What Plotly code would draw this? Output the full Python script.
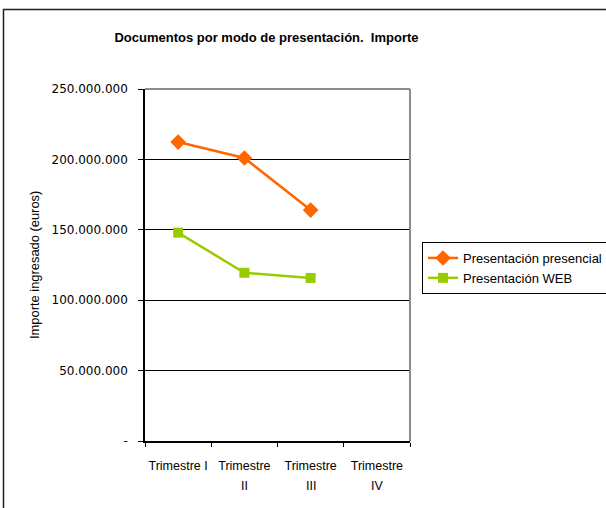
import plotly.graph_objects as go

categories = ["Trimestre I", "Trimestre II", "Trimestre III", "Trimestre IV"]
tick_line1 = ["Trimestre I", "Trimestre", "Trimestre", "Trimestre"]
tick_line2 = ["", "II", "III", "IV"]
presencial = [212300000, 201000000, 164000000, None]
web = [148000000, 119500000, 115800000, None]
y_tickvals = [0, 50000000, 100000000, 150000000, 200000000, 250000000]
y_ticktext = ["-", "50.000.000", "100.000.000", "150.000.000", "200.000.000", "250.000.000"]

FONT = "Liberation Sans, Arial, sans-serif"

fig = go.Figure()
fig.add_trace(go.Scatter(
    x=categories, y=presencial, name="Presentación presencial",
    mode="lines+markers",
    line=dict(color="#FF6600", width=2.5),
    marker=dict(symbol="diamond", size=12, color="#FF6600"),
))
fig.add_trace(go.Scatter(
    x=categories, y=web, name="Presentación WEB",
    mode="lines+markers",
    line=dict(color="#99CC00", width=2.5),
    marker=dict(symbol="square", size=10, color="#99CC00"),
))

W, H = 606, 508
L, R, T, B = 145, 196, 89, 67
pw, ph = W - L - R, H - T - B

def px(x):
    return (x - L) / pw

def py(y):
    return (H - B - y) / ph

annotations = [dict(
    text="Importe ingresado (euros)", textangle=-90,
    x=px(34), y=0.5, xref="paper", yref="paper",
    xanchor="center", yanchor="middle", showarrow=False,
    font=dict(family=FONT, size=12.9, color="black"),
)]
for cat, t2 in zip(categories, tick_line2):
    if t2:
        annotations.append(dict(
            text=t2, x=cat, xref="x", y=py(486), yref="paper",
            xanchor="center", yanchor="middle", showarrow=False,
            font=dict(family=FONT, size=12.5, color="black"),
        ))

fig.update_layout(
    width=W, height=H,
    margin=dict(l=L, r=R, t=T, b=B, pad=0, autoexpand=False),
    paper_bgcolor="white", plot_bgcolor="white",
    font=dict(family=FONT, size=12.5, color="black"),
    title=dict(text="<b>Documentos por modo de presentación.  Importe</b>",
               x=px(266.5), xref="paper", xanchor="center",
               y=1 - 37 / H, yanchor="middle",
               font=dict(family=FONT, size=13, color="black")),
    showlegend=True,
    legend=dict(x=px(422), y=py(242), xanchor="left", yanchor="top",
                bordercolor="black", borderwidth=1, bgcolor="white",
                font=dict(family=FONT, size=13, color="black"),
                tracegroupgap=0, itemwidth=30),
    xaxis=dict(
        type="category", categoryorder="array", categoryarray=categories,
        range=[-0.5, 3.5],
        tickmode="array", tickvals=categories, ticktext=tick_line1,
        tickson="boundaries", ticks="outside", ticklen=4, tickcolor="black",
        tickangle=0,
        showline=True, linecolor="black", linewidth=1.5,
        showgrid=False, zeroline=False,
        ticklabelstandoff=12,
        tickfont=dict(family=FONT, size=12.5, color="black"),
    ),
    yaxis=dict(
        range=[0, 250000000],
        tickmode="array", tickvals=y_tickvals, ticktext=y_ticktext,
        ticks="outside", ticklen=5, tickcolor="black",
        showline=True, linecolor="black", linewidth=1.5,
        showgrid=True, gridcolor="black", gridwidth=1,
        zeroline=False,
        ticklabelstandoff=8,
        tickfont=dict(family="DejaVu Sans", size=12, color="black"),
    ),
    annotations=annotations,
    shapes=[
        dict(type="line", xref="paper", yref="paper", x0=0, x1=1, y0=1, y1=1,
             line=dict(color="#8C8C8C", width=2), layer="above"),
        dict(type="line", xref="paper", yref="paper", x0=1, x1=1, y0=0, y1=1,
             line=dict(color="#8C8C8C", width=2), layer="above"),
        dict(type="rect", xref="paper", yref="paper",
             x0=px(3.5), x1=px(640), y0=py(540), y1=py(9.5),
             line=dict(color="#202020", width=1.5), layer="above"),
    ],
)

fig.write_html("out.html",
               config={"displayModeBar": False},
               post_script="document.body.style.margin='0';document.body.style.overflow='hidden';")
